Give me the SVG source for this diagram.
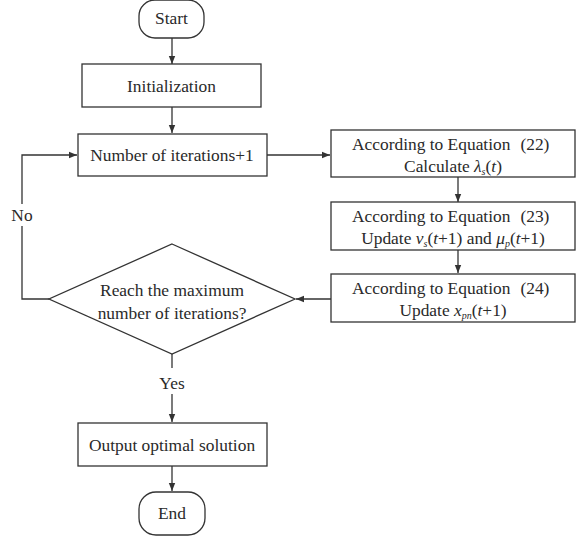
<svg xmlns="http://www.w3.org/2000/svg" width="576" height="539" viewBox="0 0 576 539">
<defs>
<marker id="a" viewBox="0 0 10 10" refX="10" refY="5" markerWidth="8" markerHeight="8" markerUnits="userSpaceOnUse" orient="auto">
<path d="M0,1 L10,5 L0,9 Z" fill="#333"/>
</marker>
</defs>
<rect width="576" height="539" fill="#fff"/>
<g id="connectors" fill="none" stroke="#333" stroke-width="1.3">
<path d="M172,38 V64" marker-end="url(#a)"/>
<path d="M172,107 V133" marker-end="url(#a)"/>
<path d="M267,155 H330" marker-end="url(#a)"/>
<path d="M458,177 V202" marker-end="url(#a)"/>
<path d="M458,250 V273" marker-end="url(#a)"/>
<path d="M331,299 H296" marker-end="url(#a)"/>
<path d="M49,299 H22 V226"/>
<path d="M22,204 V155 H77" marker-end="url(#a)"/>
<path d="M172,354 V368"/>
<path d="M172,394 V422" marker-end="url(#a)"/>
<path d="M172,466 V491" marker-end="url(#a)"/>
</g>
<text x="22" y="221" font-family="Liberation Serif" font-size="17.4" fill="#2a2a2a" text-anchor="middle">No</text>
<text x="172" y="389" font-family="Liberation Serif" font-size="17.4" fill="#2a2a2a" text-anchor="middle">Yes</text>
<g id="start">
<rect x="139" y="0" width="65" height="38" rx="16" fill="#fff" stroke="#333" stroke-width="1.3"/>
<text x="171.5" y="24" font-family="Liberation Serif" font-size="17.4" fill="#2a2a2a" text-anchor="middle">Start</text>
</g>
<g id="init">
<rect x="82" y="64" width="179" height="43" fill="#fff" stroke="#333" stroke-width="1.3"/>
<text x="171.5" y="92" font-family="Liberation Serif" font-size="17.4" fill="#2a2a2a" text-anchor="middle">Initialization</text>
</g>
<g id="iter">
<rect x="78" y="134" width="189" height="42" fill="#fff" stroke="#333" stroke-width="1.3"/>
<text x="172" y="161" font-family="Liberation Serif" font-size="17.4" fill="#2a2a2a" text-anchor="middle">Number of iterations+1</text>
</g>
<g id="eq22">
<rect x="331" y="130" width="244" height="47" fill="#fff" stroke="#333" stroke-width="1.3"/>
<text x="352" y="150" font-family="Liberation Serif" font-size="17.4" fill="#2a2a2a">According to Equation<tspan dx="10">(22)</tspan></text>
<text x="453" y="172" font-family="Liberation Serif" font-size="17.4" fill="#2a2a2a" text-anchor="middle">Calculate <tspan font-style="italic">&#955;</tspan><tspan font-size="10" font-style="italic" dy="3">s</tspan><tspan dy="-3">(</tspan><tspan font-style="italic">t</tspan>)</text>
</g>
<g id="eq23">
<rect x="331" y="202" width="244" height="48" fill="#fff" stroke="#333" stroke-width="1.3"/>
<text x="352" y="222" font-family="Liberation Serif" font-size="17.4" fill="#2a2a2a">According to Equation<tspan dx="10">(23)</tspan></text>
<text x="453" y="244" font-family="Liberation Serif" font-size="17.4" fill="#2a2a2a" text-anchor="middle">Update <tspan font-style="italic">&#957;</tspan><tspan font-size="10" font-style="italic" dy="3">s</tspan><tspan dy="-3">(</tspan><tspan font-style="italic">t</tspan>+1) and <tspan font-style="italic">&#956;</tspan><tspan font-size="10" font-style="italic" dy="3">p</tspan><tspan dy="-3">(</tspan><tspan font-style="italic">t</tspan>+1)</text>
</g>
<g id="eq24">
<rect x="331" y="274" width="244" height="48" fill="#fff" stroke="#333" stroke-width="1.3"/>
<text x="352" y="294" font-family="Liberation Serif" font-size="17.4" fill="#2a2a2a">According to Equation<tspan dx="10">(24)</tspan></text>
<text x="453" y="316" font-family="Liberation Serif" font-size="17.4" fill="#2a2a2a" text-anchor="middle">Update <tspan font-style="italic">x</tspan><tspan font-size="10" font-style="italic" dy="3">pn</tspan><tspan dy="-3">(</tspan><tspan font-style="italic">t</tspan>+1)</text>
</g>
<g id="decision">
<polygon points="172,244 295,299 172,354 49,299" fill="#fff" stroke="#333" stroke-width="1.3"/>
<text x="172" y="296" font-family="Liberation Serif" font-size="17.4" fill="#2a2a2a" text-anchor="middle">Reach the maximum</text>
<text x="172" y="319" font-family="Liberation Serif" font-size="17.4" fill="#2a2a2a" text-anchor="middle">number of iterations?</text>
</g>
<g id="output">
<rect x="78" y="423" width="189" height="43" fill="#fff" stroke="#333" stroke-width="1.3"/>
<text x="172" y="451" font-family="Liberation Serif" font-size="17.4" fill="#2a2a2a" text-anchor="middle">Output optimal solution</text>
</g>
<g id="end">
<rect x="139" y="492" width="66" height="43" rx="17" fill="#fff" stroke="#333" stroke-width="1.3"/>
<text x="172" y="519" font-family="Liberation Serif" font-size="17.4" fill="#2a2a2a" text-anchor="middle">End</text>
</g>
</svg>
